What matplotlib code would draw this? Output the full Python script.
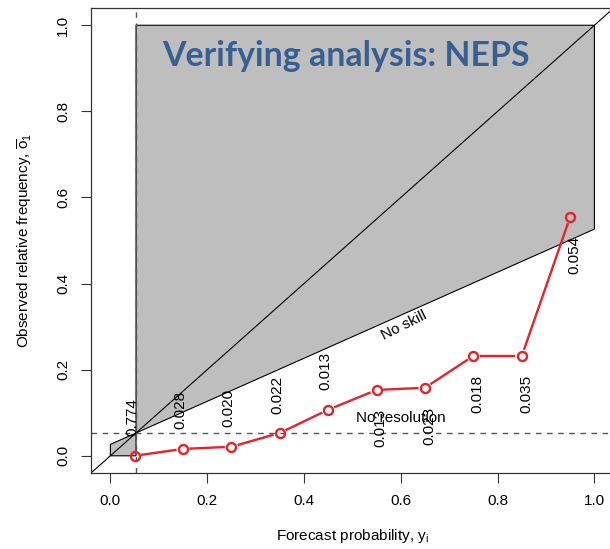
import numpy as np
import matplotlib
matplotlib.use('Agg')
import matplotlib.pyplot as plt

plt.rcParams['font.family'] = ['Liberation Sans', 'DejaVu Sans']

# reliability data: forecast bins, observed frequency, relative sample size
y_i = [0.05, 0.15, 0.25, 0.35, 0.45, 0.55, 0.65, 0.75, 0.85, 0.95]
obar_i = [0.0, 0.016, 0.021, 0.053, 0.107, 0.153, 0.158, 0.232, 0.232, 0.555]
prob_y = ['0.774', '0.028', '0.020', '0.022', '0.013', '0.013', '0.023', '0.018', '0.035', '0.054']
obar = 0.053
title = 'Verifying analysis: NEPS'

fig = plt.figure(figsize=(6.1, 5.49), dpi=100)
ax = fig.add_axes([0.1492, 0.1384, 0.857, 0.847])
ax.set_xlim(-0.04, 1.04)
ax.set_ylim(-0.04, 1.04)

# skill region
a = (1 - obar) / 2 + obar
b = obar / 2
xp = [obar, obar, 1, 1, 0, 0]
yp = [0, 1, 1, a, b, 0]
ax.fill(xp, yp, facecolor='#bebebe', edgecolor='black', lw=0.8, zorder=1)

ax.axline((0, 0), (1, 1), color='black', lw=0.8, zorder=2)
ax.axhline(obar, color='#555555', lw=1.0, ls=(0, (4, 4)), zorder=2)
ax.axvline(obar, color='#555555', lw=1.0, ls=(0, (4, 4)), zorder=2)

ax.annotate('No resolution', (0.6, obar), xytext=(0, 11), textcoords='offset points',
            ha='center', va='center', fontsize=11, zorder=3)
ax.annotate('No skill', (0.6, obar + (a - b) * (0.6 - obar)), xytext=(0, -3),
            textcoords='offset points', ha='center', va='top', fontsize=11,
            rotation=np.degrees(np.arctan(a - b)), rotation_mode='anchor',
            transform_rotates_text=True, zorder=3)

# line with gaps at the points (type="b")
red = '#e3242b'
pts = ax.transData.transform(np.column_stack([y_i, obar_i]))
gap = 6.5
for p0, p1 in zip(pts[:-1], pts[1:]):
    d = p1 - p0
    u = d / np.hypot(*d)
    seg = ax.transData.inverted().transform([p0 + u * gap, p1 - u * gap])
    ax.plot(seg[:, 0], seg[:, 1], color=red, lw=1.7, zorder=4, solid_capstyle='butt')
ax.plot(y_i, obar_i, ls='none', marker='o', ms=6.5, mfc='none', mec=red, mew=1.7, zorder=5)

for x, y, s in zip(y_i, obar_i, prob_y):
    if x < 0.5:
        ax.annotate(s, (x, y), xytext=(1, 14), textcoords='offset points', rotation=90,
                    rotation_mode='anchor', ha='left', va='baseline', fontsize=11, zorder=6)
    else:
        ax.annotate(s, (x, y), xytext=(-2, -14), textcoords='offset points', rotation=90,
                    rotation_mode='anchor', ha='right', va='top', fontsize=11, zorder=6)

ax.text(0.486, 0.905, title, color='#376092', fontsize=24.4, fontweight='bold',
        family=['Lato', 'DejaVu Sans'], ha='center', va='baseline', zorder=7)

ticks = [0.0, 0.2, 0.4, 0.6, 0.8, 1.0]
ax.set_xticks(ticks)
ax.set_yticks(ticks)
ax.set_xticklabels([f'{t:.1f}' for t in ticks])
ax.set_yticklabels([f'{t:.1f}' for t in ticks], rotation=90, va='center')
ax.tick_params(direction='out', length=7, width=0.8, labelsize=11, pad=8, color='#333333')
for s in ax.spines.values():
    s.set_linewidth(0.9)
    s.set_color('#333333')

ax.set_xlabel('Forecast probability, $\\mathregular{y_i}$', fontsize=11, labelpad=14)
ax.set_ylabel('Observed relative frequency, $\\overline{\\mathregular{o}}_\\mathregular{1}$',
              fontsize=11, labelpad=16)

fig.savefig('out.png', dpi=100)
